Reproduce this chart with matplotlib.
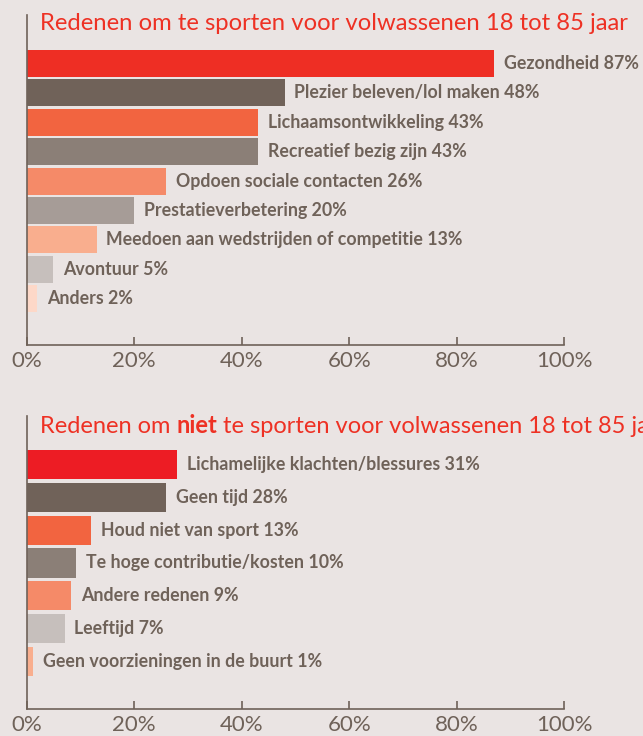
import matplotlib.pyplot as plt
from matplotlib.text import Annotation

# top chart: reasons to do sport
top_labels = ['Gezondheid 87%', 'Plezier beleven/lol maken 48%', 'Lichaamsontwikkeling 43%',
              'Recreatief bezig zijn 43%', 'Opdoen sociale contacten 26%', 'Prestatieverbetering 20%',
              'Meedoen aan wedstrijden of competitie 13%', 'Avontuur 5%', 'Anders 2%']
top_values = [87, 48, 43, 43, 26, 20, 13, 5, 2]
top_colors = ['#EE2E24', '#706259', '#F26440', '#8B7F77', '#F58A68', '#A69C97',
              '#F9AE8E', '#C6BFBC', '#FDD8C8']

# bottom chart: reasons not to do sport (bar lengths as drawn in the picture)
bot_labels = ['Lichamelijke klachten/blessures 31%', 'Geen tijd 28%', 'Houd niet van sport 13%',
              'Te hoge contributie/kosten 10%', 'Andere redenen 9%', 'Leeftijd 7%',
              'Geen voorzieningen in de buurt 1%']
bot_values = [28, 26, 12, 9.2, 8.3, 7.1, 1.2]
bot_colors = ['#ED1C24', '#706259', '#F26440', '#8B7F77', '#F58A68', '#C6BFBC', '#F9AE8E']

ticks = [0, 20, 40, 60, 80, 100]
tick_labels = ['0%', '20%', '40%', '60%', '80%', '100%']

bg = '#EAE4E3'
grey = '#6F6259'
red = '#EE3124'
plt.rcParams['font.family'] = ['Lato', 'DejaVu Sans']

fig = plt.figure(figsize=(6.43, 7.36), dpi=100, facecolor=bg)


def bar_panel(ax, labels, values, colors, ylim, height):
    ys = list(range(len(values)))
    ax.barh(ys, values, height=height, color=colors)
    for y, v, lab in zip(ys, values, labels):
        ax.annotate(lab, (v, y), xytext=(7, 0), textcoords='offset points',
                    va='center', ha='left', fontsize=12.8, fontweight='bold', color=grey)
    ax.set_xlim(0, 100)
    ax.set_ylim(*ylim)
    for s in ['top', 'right']:
        ax.spines[s].set_visible(False)
    for s in ['left', 'bottom']:
        ax.spines[s].set_color(grey)
        ax.spines[s].set_linewidth(1.2)
    ax.set_yticks([])
    ax.set_xticks(ticks)
    ax.set_xticklabels(tick_labels)
    ax.tick_params(axis='x', direction='in', length=6, width=1.2, color=grey,
                   labelcolor=grey, labelsize=16, pad=4)
    ax.patch.set_alpha(0)


ax1 = fig.add_axes([26.6 / 643, 1 - 345 / 736, (564.3 - 26.6) / 643, (345 - 15) / 736])
bar_panel(ax1, top_labels, top_values, top_colors, (9.58, -1.65), 0.92)

ax2 = fig.add_axes([26.6 / 643, 1 - 709 / 736, (564.3 - 26.6) / 643, (709 - 416) / 736])
bar_panel(ax2, bot_labels, bot_values, bot_colors, (7.45, -1.48), 0.89)

fig.text(40 / 643, 1 - 23 / 736, 'Redenen om te sporten voor volwassenen 18 tot 85 jaar',
         color=red, fontsize=17.2, va='center', ha='left')

# second title, with "niet" in bold (runs off the right edge like the original)
t1 = fig.text(40 / 643, 1 - 437 / 736, 'Redenen om ', color=red, fontsize=17,
              va='bottom', ha='left')
t2 = fig.add_artist(Annotation('niet', xy=(1, 0), xycoords=t1, va='bottom', ha='left',
                               color=red, fontsize=17, fontweight='bold'))
fig.add_artist(Annotation(' te sporten voor volwassenen 18 tot 85 jaar', xy=(1, 0),
                          xycoords=t2, va='bottom', ha='left', color=red, fontsize=17))

fig.savefig('out.png', dpi=100, facecolor=bg)
